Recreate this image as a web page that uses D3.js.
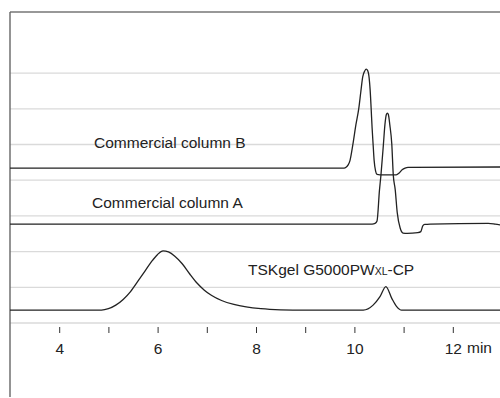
<!DOCTYPE html>
<html>
<head>
<meta charset="utf-8">
<script src="https://cdn.jsdelivr.net/npm/d3@7"></script>
<style>
  body { margin: 0; background: #fff; }
  svg { display: block; font-family: "Liberation Sans", Arial, Helvetica, sans-serif; }
</style>
</head>
<body>
<div id="chart"></div>
<script>
// Chromatogram traces: [time (min), detector response (grid units)]
const columnB = [
  [3.0, 4.34], [9.79, 4.34], [9.83, 4.36], [9.87, 4.42], [9.91, 4.55], [9.97, 5.01],
  [10.03, 5.55], [10.09, 6.02], [10.13, 6.47], [10.17, 6.90], [10.21, 7.06], [10.24, 7.11],
  [10.27, 7.07], [10.30, 6.86], [10.32, 6.53], [10.34, 6.02], [10.36, 5.46], [10.38, 5.01],
  [10.40, 4.57], [10.43, 4.26], [10.46, 4.16], [10.52, 4.15], [10.85, 4.15], [10.91, 4.20],
  [10.97, 4.29], [11.03, 4.34], [11.09, 4.36], [13.0, 4.37]
];
const columnA = [
  [3.0, 2.77], [10.36, 2.77], [10.42, 2.79], [10.46, 2.86], [10.51, 3.73], [10.54, 4.15],
  [10.59, 5.01], [10.62, 5.55], [10.65, 5.84], [10.67, 5.88], [10.69, 5.84], [10.72, 5.55],
  [10.76, 5.01], [10.79, 4.15], [10.83, 3.73], [10.87, 3.10], [10.93, 2.66], [10.99, 2.52],
  [11.07, 2.51], [11.29, 2.53], [11.35, 2.56], [11.39, 2.72], [11.43, 2.76], [11.54, 2.77],
  [12.72, 2.79], [12.86, 2.77], [13.0, 2.74]
];
const tskgel = [
  [3.0, 0.36], [4.86, 0.36], [5.00, 0.40], [5.15, 0.50], [5.30, 0.66], [5.45, 0.88],
  [5.60, 1.17], [5.75, 1.47], [5.90, 1.76], [6.00, 1.92], [6.11, 2.02], [6.22, 1.99],
  [6.35, 1.87], [6.50, 1.66], [6.65, 1.38], [6.80, 1.12], [6.95, 0.92], [7.10, 0.77],
  [7.30, 0.63], [7.55, 0.52], [7.80, 0.45], [8.10, 0.40], [8.50, 0.37], [9.00, 0.36],
  [10.18, 0.36], [10.38, 0.50], [10.52, 0.74], [10.64, 1.02], [10.76, 0.69],
  [10.86, 0.46], [10.96, 0.36], [13.0, 0.36]
];
const seriesNames = ["Commercial column B", "Commercial column A", "TSKgel G5000PW"];
const gridValues = [0, 1, 2, 3, 4, 5, 6, 7];
const tickValues = [4, 5, 6, 7, 8, 9, 10, 11, 12];
const tickLabels = ["4", "", "6", "", "8", "", "10", "", "12"];
const unitLabel = "min";

const width = 500, height = 398;

const svg = d3.select("#chart")
    .append("svg")
    .attr("width", width)
    .attr("height", height);

const x = d3.scaleLinear()
    .domain([3, 13])
    .range([10, 502]);

const y = d3.scaleLinear()
    .domain([0, 8.7])
    .range([323, 12.4]);

// gridlines
svg.append("g")
    .selectAll("line")
    .data(gridValues)
    .join("line")
    .attr("x1", 10)
    .attr("x2", width)
    .attr("y1", d => y(d))
    .attr("y2", d => y(d))
    .attr("stroke", "#dadada")
    .attr("stroke-width", 1.3);

// frame: top and left
svg.append("line")
    .attr("x1", 10).attr("x2", width)
    .attr("y1", 12).attr("y2", 12)
    .attr("stroke", "#333")
    .attr("stroke-width", 1.2);
svg.append("line")
    .attr("x1", 10).attr("x2", 10)
    .attr("y1", 12).attr("y2", 397)
    .attr("stroke", "#666")
    .attr("stroke-width", 1.4);

// x axis (ticks only)
const xAxis = svg.append("g")
    .attr("transform", "translate(0,327)")
    .call(d3.axisBottom(x)
        .tickValues(tickValues)
        .tickSize(6)
        .tickPadding(9.5)
        .tickFormat((d, i) => tickLabels[i]));
xAxis.select(".domain").remove();
xAxis.selectAll(".tick line").attr("stroke", "#333").attr("stroke-width", 1);
xAxis.selectAll(".tick text")
    .attr("fill", "#222")
    .style("font-size", "15.5px")
    .style("font-family", "'Liberation Sans', Arial, sans-serif");

svg.append("text")
    .attr("x", 467)
    .attr("y", 353)
    .attr("fill", "#222")
    .style("font-size", "15.5px")
    .text(unitLabel);

// traces
const line = d3.line()
    .x(d => x(d[0]))
    .y(d => y(d[1]))
    .curve(d3.curveMonotoneX);

[columnB, columnA, tskgel].forEach(function(s) {
    svg.append("path")
        .datum(s)
        .attr("d", line)
        .attr("fill", "none")
        .attr("stroke", "#222")
        .attr("stroke-width", 1.3);
});

// trace labels
svg.append("text")
    .attr("x", 94).attr("y", 148)
    .attr("fill", "#222")
    .style("font-size", "15.5px")
    .text(seriesNames[0]);

svg.append("text")
    .attr("x", 92).attr("y", 208)
    .attr("fill", "#222")
    .style("font-size", "15.5px")
    .text(seriesNames[1]);

const tsk = svg.append("text")
    .attr("x", 248).attr("y", 275)
    .attr("fill", "#222")
    .style("font-size", "15.5px");
tsk.append("tspan").text(seriesNames[2]);
tsk.append("tspan").style("font-size", "10.5px").text("XL");
tsk.append("tspan").text("-CP");
</script>
</body>
</html>
